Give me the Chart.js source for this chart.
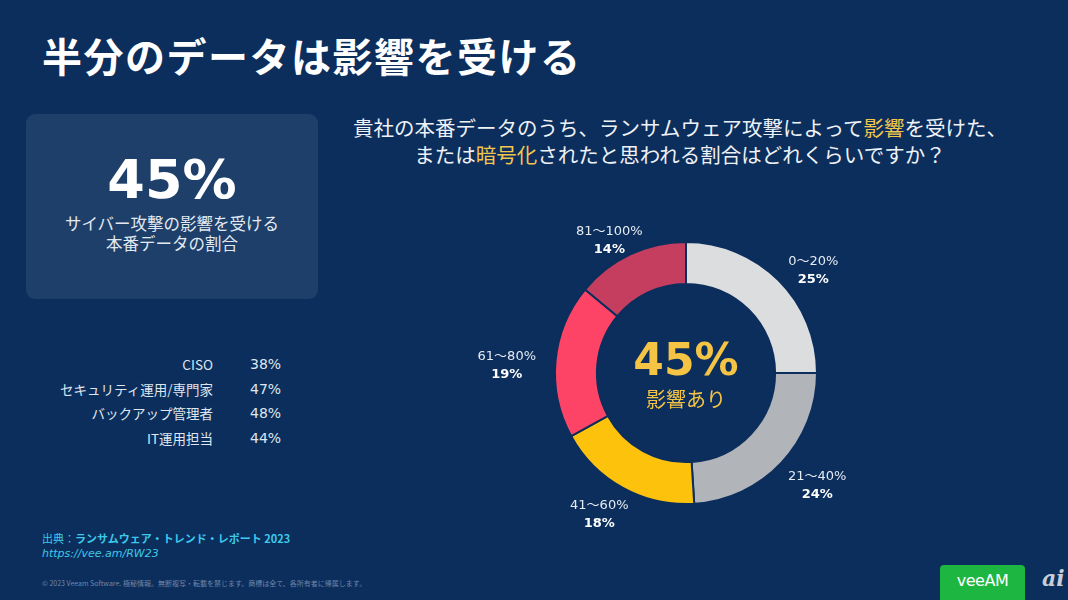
<!DOCTYPE html>
<html lang="ja">
<head>
<meta charset="utf-8">
<script src="https://cdn.jsdelivr.net/npm/chart.js@4.4.0/dist/chart.umd.min.js"></script>
<style>
  html,body{margin:0;padding:0;}
  body{width:1068px;height:600px;background:#0c2e5c;position:relative;overflow:hidden;
       font-family:"Noto Sans CJK JP","Noto Sans",sans-serif;color:#fff;}
  .abs{position:absolute;}
  #title{left:42px;top:27px;font-size:40px;font-weight:700;line-height:56px;letter-spacing:1.5px;white-space:nowrap;}
  #box{left:26px;top:114px;width:292px;height:185px;background:#1d3f6a;border-radius:9px;}
  #bignum{left:26px;width:292px;top:148px;text-align:center;font-family:"DejaVu Sans",sans-serif;font-weight:700;font-size:54px;line-height:64px;}
  #boxsub{left:26px;width:292px;top:213px;text-align:center;font-size:16.5px;line-height:20px;color:#e3e9f1;}
  #tbl{left:40px;top:352px;font-size:13.5px;color:#dfe6ef;}
  .row{position:relative;height:24.7px;line-height:24px;}
  .lab{position:absolute;right:-173px;width:400px;text-align:right;white-space:nowrap;}
  .val{position:absolute;left:210px;white-space:nowrap;font-family:"DejaVu Sans",sans-serif;font-size:14px;}
  #q{left:330px;width:700px;top:114px;text-align:center;font-size:20.5px;line-height:27px;color:#eef2f7;white-space:nowrap;}
  .hl{color:#f3c64c;}
  #src{left:42px;top:531px;font-size:11px;line-height:14px;color:#3cc9ea;white-space:nowrap;}
  #src b{font-weight:700;}
  #url{font-style:italic;font-family:"DejaVu Sans","Noto Sans",sans-serif;font-size:11px;}
  #copy{left:42px;top:578px;font-size:7px;color:#6f86a8;white-space:nowrap;}
  #veeam{left:940px;top:565px;width:85px;height:40px;background:#1cb640;border-radius:4px;}
  #veeamtxt{left:940px;top:570px;width:85px;text-align:center;font-family:"DejaVu Sans",sans-serif;font-weight:400;font-size:16px;line-height:22px;color:#fff;letter-spacing:-0.5px;}
  #ai{left:1042px;top:565px;font-family:"DejaVu Serif",serif;font-style:italic;font-weight:700;font-size:22px;color:#c7ced8;}
  #chart{position:absolute;left:0;top:0;}
</style>
</head>
<body>
<div id="title" class="abs">半分のデータは影響を受ける</div>
<div id="box" class="abs"></div>
<div id="bignum" class="abs">45%</div>
<div id="boxsub" class="abs">サイバー攻撃の影響を受ける<br>本番データの割合</div>
<div id="tbl" class="abs"></div>
<div id="q" class="abs">貴社の本番データのうち、ランサムウェア攻撃によって<span class="hl">影響</span>を受けた、<br>または<span class="hl">暗号化</span>されたと思われる割合はどれくらいですか？</div>
<div id="src" class="abs">出典：<b>ランサムウェア・トレンド・レポート 2023</b><br><span id="url">https://vee.am/RW23</span></div>
<div id="copy" class="abs">© 2023 Veeam Software. 極秘情報。無断複写・転載を禁じます。商標は全て、各所有者に帰属します。</div>
<div id="veeam" class="abs"></div>
<div id="veeamtxt" class="abs">veeAM</div>
<div id="ai" class="abs">ai</div>
<canvas id="chart" width="1068" height="600"></canvas>
<script>
// ---- data ----
const categories = ['0～20%', '21～40%', '41～60%', '61～80%', '81～100%'];
const shares = [25, 24, 18, 19, 14];
const centerValue = '45%';
const centerLabel = '影響あり';
const roleNames = ['CISO', 'セキュリティ運用/専門家', 'バックアップ管理者', 'IT運用担当'];
const roleShares = [38, 47, 48, 44];

// ---- styles ----
const sliceColors = ['#dcdddf', '#b1b4b9', '#fdc20c', '#fd4466', '#c53e60'];
const bgColor = '#0c2e5c';

// table
const tbl = document.getElementById('tbl');
roleNames.forEach((n, i) => {
  const r = document.createElement('div');
  r.className = 'row';
  r.innerHTML = '<span class="lab"></span><span class="val"></span>';
  r.querySelector('.lab').textContent = n;
  r.querySelector('.val').textContent = roleShares[i] + '%';
  tbl.appendChild(r);
});

const labelPlugin = {
  id: 'sliceLabels',
  afterDraw(chart) {
    const ctx = chart.ctx;
    const meta = chart.getDatasetMeta(0);
    ctx.save();
    ctx.textAlign = 'center';
    ctx.textBaseline = 'middle';
    let cx = 0, cy = 0;
    meta.data.forEach((arc, i) => {
      const p = arc.getProps(['x', 'y', 'startAngle', 'endAngle', 'outerRadius'], true);
      cx = p.x; cy = p.y;
      const mid = (p.startAngle + p.endAngle) / 2;
      const lx = p.x + Math.cos(mid) * (p.outerRadius + 49);
      const ly = p.y + 7 + Math.sin(mid) * (p.outerRadius + 23);
      ctx.fillStyle = '#e6ebf2';
      ctx.font = '13px "DejaVu Sans", "Noto Sans CJK JP", sans-serif';
      ctx.fillText(chart.data.labels[i], lx, ly - 9);
      ctx.fillStyle = '#ffffff';
      ctx.font = 'bold 13px "DejaVu Sans", sans-serif';
      ctx.fillText(chart.data.datasets[0].data[i] + '%', lx, ly + 9);
    });
    ctx.fillStyle = '#f5c444';
    ctx.font = 'bold 44px "DejaVu Sans", sans-serif';
    ctx.fillText(centerValue, cx, cy - 9);
    ctx.font = '20px "Noto Sans CJK JP", sans-serif';
    ctx.fillText(centerLabel, cx, cy + 26);
    ctx.restore();
  }
};

new Chart(document.getElementById('chart'), {
  type: 'doughnut',
  data: {
    labels: categories,
    datasets: [{
      data: shares,
      backgroundColor: sliceColors,
      borderColor: bgColor,
      borderWidth: 2,
      hoverOffset: 0
    }]
  },
  options: {
    responsive: false,
    animation: false,
    cutout: '68%',
    layout: { padding: { left: 554, right: 250, top: 241, bottom: 95 } },
    plugins: { legend: { display: false }, tooltip: { enabled: false } },
    events: []
  },
  plugins: [labelPlugin]
});
</script>
</body>
</html>
